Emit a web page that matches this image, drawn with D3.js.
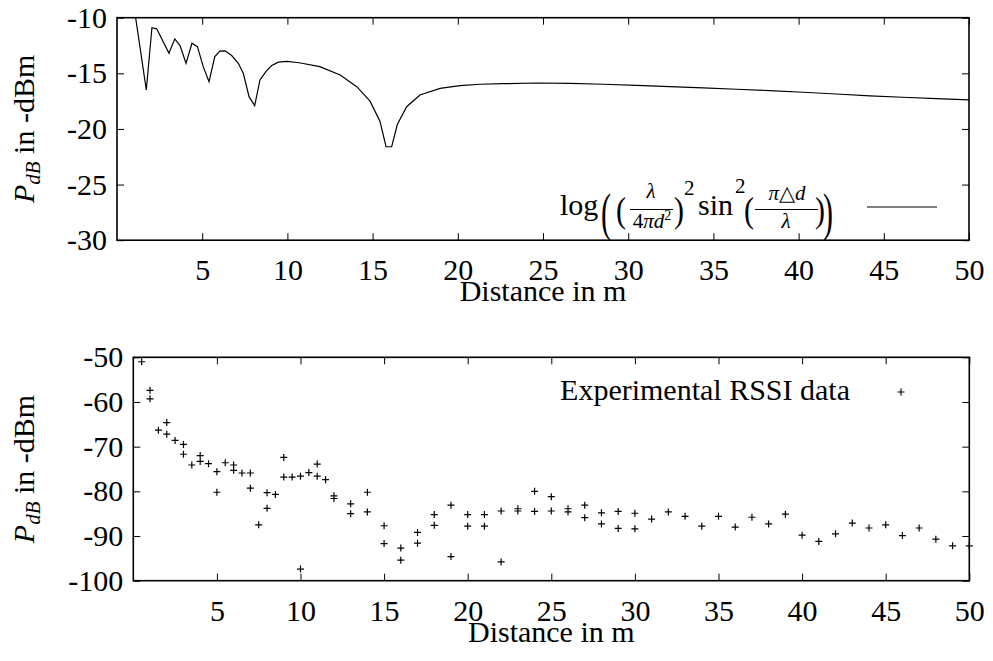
<!DOCTYPE html>
<html><head><meta charset="utf-8">
<script src="https://cdn.jsdelivr.net/npm/d3@7"></script>
<style>
body{margin:0;background:#fff}
svg text{font-family:"Liberation Serif","DejaVu Serif","Noto Serif","Times New Roman",Times,serif;fill:#000}
</style></head><body>
<svg id="c" width="993" height="661"></svg>
<script>
// ---------- data ----------
const xTicks = [5,10,15,20,25,30,35,40,45,50];
const topYTicks = [-10,-15,-20,-25,-30];
const botYTicks = [-50,-60,-70,-80,-90,-100];
const xTitle = "Distance in m";
const bottomLegend = "Experimental RSSI data";

// theoretical curve (top)
const topX = [0.95,1.72,2.05,2.33,3.05,3.39,3.70,4.05,4.40,4.72,5.06,5.40,5.74,6.04,6.34,6.73,7.12,7.41,7.75,8.08,8.39,8.76,9.08,9.47,9.96,10.7,11.9,13.1,14.07,14.85,15.43,15.79,16.12,16.45,17.0,17.78,18.96,20.13,21.3,22.67,24.63,26.6,28.54,30.5,32.45,34.4,36.37,38.3,40.28,42.2,44.19,46.1,48.1,50];
const topY = [-8.5,-16.5,-10.9,-11.0,-13.2,-11.9,-12.5,-14.1,-12.3,-12.6,-14.4,-15.75,-13.5,-13.0,-12.98,-13.4,-14.1,-15.0,-17.1,-17.9,-15.6,-14.8,-14.3,-14.0,-13.93,-14.05,-14.4,-15.15,-16.2,-17.5,-19.3,-21.6,-21.6,-19.6,-18.0,-16.95,-16.35,-16.1,-15.98,-15.93,-15.87,-15.9,-15.98,-16.08,-16.2,-16.3,-16.43,-16.55,-16.7,-16.86,-17.03,-17.15,-17.27,-17.38];

// experimental RSSI (bottom)
const expX = [0.5,1,1,1.5,2,2,2.5,3,3,3.5,4,4,4.5,5,5,5.5,6,6,6.5,7,7,7.5,8,8,8.5,9,9,9.5,10,10,10.5,11,11,11.5,12,12,13,13,14,14,15,15,16,16,17,17,18,18,19,19,20,20,21,21,22,22,23,23,24,24,25,25,26,26,27,27,28,28,29,29,30,30,31,32,33,34,35,36,37,38,39,40,41,42,43,44,45,46,47,48,49,50];
const expY = [-51.0,-57.4,-59.3,-66.3,-64.6,-67.2,-68.6,-69.5,-71.7,-74.1,-72.0,-73.3,-73.8,-75.6,-80.2,-73.6,-74.1,-75.3,-75.9,-75.9,-79.3,-87.5,-80.3,-83.8,-80.7,-72.4,-76.8,-76.8,-76.6,-97.4,-75.8,-73.9,-76.6,-77.4,-81.0,-81.6,-82.8,-85.0,-80.2,-84.6,-87.7,-91.7,-92.7,-95.4,-89.2,-91.6,-85.2,-87.6,-83.1,-94.6,-85.2,-87.8,-85.2,-87.8,-84.4,-95.8,-83.9,-84.4,-80.0,-84.5,-81.2,-84.4,-83.9,-84.6,-83.1,-85.9,-84.8,-87.3,-84.5,-88.3,-84.9,-88.4,-86.2,-84.6,-85.6,-87.8,-85.6,-88.0,-85.8,-87.3,-85.1,-89.8,-91.2,-89.5,-87.1,-88.2,-87.5,-89.9,-88.2,-90.7,-92.2,-92.2];

// ---------- drawing ----------
const svg = d3.select("#c");
const FS = 30;
const FAM = '"Liberation Serif","DejaVu Serif","Noto Serif","Times New Roman",Times,serif';

function styleAxis(sel){
  sel.attr("font-family",null).attr("font-size",null);
  sel.select(".domain").remove();
  sel.selectAll(".tick line").attr("stroke","#000").attr("stroke-width",1);
  sel.selectAll(".tick text").attr("font-size",FS).attr("fill","#000")
     .style("font-family",FAM);
}

function panel(box, ydom, yticks, id){
  const x = d3.scaleLinear().domain([0,50]).range([box.l,box.r]);
  const y = d3.scaleLinear().domain(ydom).range([box.b,box.t]);
  const fmt = d => String(d);
  svg.append("g").attr("transform",`translate(0,${box.b})`)
    .call(d3.axisBottom(x).tickValues(xTicks).tickSize(-7).tickPadding(19).tickFormat(fmt)).call(styleAxis);
  svg.append("g").attr("transform",`translate(0,${box.t})`)
    .call(d3.axisTop(x).tickValues(xTicks).tickSize(-7).tickFormat("")).call(styleAxis);
  svg.append("g").attr("transform",`translate(${box.l},0)`)
    .call(d3.axisLeft(y).tickValues(yticks).tickSize(-7).tickPadding(10).tickFormat(fmt)).call(styleAxis);
  svg.append("g").attr("transform",`translate(${box.r},0)`)
    .call(d3.axisRight(y).tickValues(yticks).tickSize(-7).tickFormat("")).call(styleAxis);
  svg.append("clipPath").attr("id",id).append("rect")
    .attr("x",box.l).attr("y",box.t).attr("width",box.r-box.l).attr("height",box.b-box.t);
  // x title
  svg.append("text").attr("x",(box.l+box.r)/2).attr("y",box.b+61)
    .attr("text-anchor","middle").attr("font-size",FS).text(xTitle);
  // y title
  const yt = svg.append("text").attr("transform",`translate(34,${(box.t+box.b)/2}) rotate(-90)`)
    .attr("text-anchor","middle").attr("font-size",FS);
  yt.append("tspan").attr("font-style","italic").text("P");
  yt.append("tspan").attr("font-style","italic").attr("font-size",21).attr("dy",6).text("dB");
  yt.append("tspan").attr("dy",-6).text(" in -dBm");
  return {x,y,box};
}

// top panel
const T = panel({l:117,r:969,t:17.7,b:240.2}, [-30,-10], topYTicks, "clipTop");
const topData = topX.map((d,i)=>[d,topY[i]]);
svg.append("path").datum(topData)
  .attr("clip-path","url(#clipTop)")
  .attr("fill","none").attr("stroke","#000").attr("stroke-width",1.2)
  .attr("d", d3.line().x(d=>T.x(d[0])).y(d=>T.y(d[1])));

// bottom panel
const B = panel({l:133.3,r:969.3,t:357.3,b:580.7}, [-100,-50], botYTicks, "clipBot");
const pts = expX.map((d,i)=>[d,expY[i]]);
const plus = (cx,cy,s)=>`M${cx-s},${cy}H${cx+s}M${cx},${cy-s}V${cy+s}`;
svg.append("path")
  .attr("fill","none").attr("stroke","#000").attr("stroke-width",1.2)
  .attr("d", pts.map(d=>plus(B.x(d[0]),B.y(d[1]),3.5)).join(""));

// frames
[T.box,B.box].forEach(b=>{
  svg.append("rect").attr("x",b.l).attr("y",b.t).attr("width",b.r-b.l).attr("height",b.b-b.t)
    .attr("fill","none").attr("stroke","#000").attr("stroke-width",1.6);
});

// bottom legend
svg.append("text").attr("x",850).attr("y",400).attr("text-anchor","end").attr("font-size",FS).text(bottomLegend);
svg.append("path").attr("stroke","#000").attr("stroke-width",1.2).attr("d",plus(901,392,3.5));

// top legend: log((λ/(4πd²))² sin²(πΔd/λ))
const L = svg.append("g");
function t(x,y,s,opts={}){
  const e = L.append("text").attr("x",x).attr("y",y).attr("font-size",opts.fs||FS).text(s);
  if(opts.it) e.attr("font-style","italic");
  if(opts.anchor) e.attr("text-anchor",opts.anchor);
  if(opts.tr) e.attr("transform",opts.tr).attr("x",0).attr("y",0);
  return e;
}
t(560,215,"log");
t(0,0,"(",{tr:"translate(601,230) scale(1,1.75)"});
t(0,0,")",{tr:"translate(823,230) scale(1,1.75)"});
t(0,0,"(",{tr:"translate(616,222) scale(1,1.2)"});
t(0,0,")",{tr:"translate(674,222) scale(1,1.2)"});
t(0,0,"(",{tr:"translate(744,222) scale(1,1.2)"});
t(0,0,")",{tr:"translate(815,222) scale(1,1.2)"});
t(651,198,"λ",{fs:21,it:true,anchor:"middle"});
L.append("line").attr("x1",630).attr("x2",673).attr("y1",209.5).attr("y2",209.5).attr("stroke","#000").attr("stroke-width",1);
const den = L.append("text").attr("x",652).attr("y",228).attr("font-size",21).attr("text-anchor","middle");
den.append("tspan").text("4");
den.append("tspan").attr("font-style","italic").text("πd");
den.append("tspan").attr("font-size",14).attr("dy",-8).text("2");
t(684,195,"2",{fs:21});
t(698,215,"sin");
t(735,193,"2",{fs:21});
const num2 = L.append("text").attr("x",787).attr("y",200).attr("font-size",21).attr("text-anchor","middle");
num2.append("tspan").attr("font-style","italic").text("π");
num2.append("tspan").text("△");
num2.append("tspan").attr("font-style","italic").text("d");
L.append("line").attr("x1",755).attr("x2",818).attr("y1",209.5).attr("y2",209.5).attr("stroke","#000").attr("stroke-width",1);
t(786,228,"λ",{fs:21,it:true,anchor:"middle"});
L.append("line").attr("x1",867).attr("x2",937).attr("y1",207).attr("y2",207).attr("stroke","#000").attr("stroke-width",1.2);
</script>
</body></html>
